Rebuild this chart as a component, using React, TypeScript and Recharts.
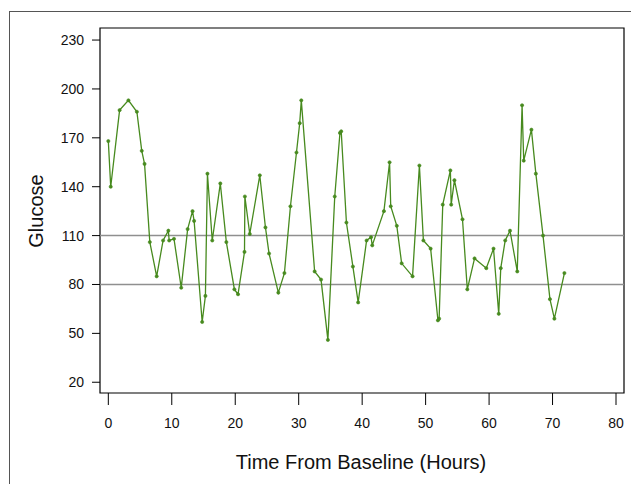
import React from "react";
import { LineChart, Line, XAxis, YAxis, ReferenceLine, ReferenceArea, Label } from "recharts";

const hours = [
  0, 0.38, 1.78, 3.17, 4.5, 5.27, 5.71, 6.54, 7.62, 8.63, 9.46, 9.59, 10.35, 11.49, 12.5, 13.27, 13.52, 14.79, 15.3,
  15.62, 16.38, 17.65, 18.6, 19.87, 20.44, 21.46, 21.52, 22.29, 23.87, 24.76, 25.33, 26.79, 27.75, 28.7, 29.65, 30.16,
  30.41, 32.51, 33.52, 34.6, 35.68, 36.5, 36.7, 37.52, 38.54, 39.37, 40.7, 41.4, 41.59, 43.43, 44.32, 44.5, 45.46,
  46.22, 47.94, 49.02, 49.65, 50.79, 51.94, 52.13, 52.7, 53.9, 54.03, 54.54, 55.81, 56.57, 57.71, 59.56, 60.7, 61.52,
  61.84, 62.54, 63.3, 64.44, 65.2, 65.46, 66.67, 67.37, 68.5, 69.59, 70.29, 71.87,
];

const glucose = [
  168, 140, 187, 193, 186, 162, 154, 106, 85, 107, 113, 107, 108, 78, 114, 125, 119, 57, 73,
  148, 107, 142, 106, 77, 74, 100, 134, 111, 147, 115, 99, 75, 87, 128, 161, 179,
  193, 88, 83, 46, 134, 173, 174, 118, 91, 69, 107, 109, 104, 125, 155, 128, 116,
  93, 85, 153, 107, 102, 58, 59, 129, 150, 129, 144, 120, 77, 96, 90, 102, 62,
  90, 107, 113, 88, 190, 156, 175, 148, 110, 71, 59, 87,
];

const xTicks = [0, 10, 20, 30, 40, 50, 60, 70, 80];
const yTicks = [20, 50, 80, 110, 140, 170, 200, 230];
const limits = [80, 110];

const X_DOMAIN: [number, number] = [-1.31, 81.26];
const Y_DOMAIN: [number, number] = [13.4, 237.4];

const data = hours.map((h, i) => ({ time: h, glucose: glucose[i] }));

const GREEN = "#478a1e";
const FONT = "'Liberation Sans', Arial, sans-serif";

const App: React.FC = () => {
  return (
    <div style={{ position: "absolute", left: 0, top: 0, width: 631, height: 484, overflow: "hidden", background: "#fff" }}>
      <div
        style={{
          position: "absolute",
          left: 9,
          top: 11,
          width: 660,
          height: 520,
          border: "1.5px solid #555",
        }}
      />
      <div style={{ position: "absolute", left: 0, top: 0 }}>
        <LineChart width={631} height={484} data={data} margin={{ top: 28, right: 7, left: 0, bottom: 0 }}>
          <XAxis
            dataKey="time"
            type="number"
            domain={X_DOMAIN}
            allowDataOverflow
            ticks={xTicks}
            height={91}
            axisLine={false}
            tickLine={{ stroke: "#000" }}
            tickSize={12}
            tickMargin={13}
            tick={{ fill: "#111", fontSize: 14, fontFamily: FONT }}
            interval={0}
          >
            <Label
              content={() => (
                <text x={361} y={469} textAnchor="middle" fill="#111" fontSize={20} fontFamily={FONT}>
                  Time From Baseline (Hours)
                </text>
              )}
            />
          </XAxis>
          <YAxis
            type="number"
            domain={Y_DOMAIN}
            allowDataOverflow
            ticks={yTicks}
            width={100}
            axisLine={false}
            tickLine={{ stroke: "#000" }}
            tickSize={8}
            tickMargin={8}
            tick={{ fill: "#111", fontSize: 14, fontFamily: FONT }}
            interval={0}
          >
            <Label
              content={() => (
                <text
                  x={43}
                  y={211}
                  textAnchor="middle"
                  fill="#111"
                  fontSize={20}
                  fontFamily={FONT}
                  transform="rotate(-90 43 211)"
                >
                  Glucose
                </text>
              )}
            />
          </YAxis>
          {limits.map((v) => (
            <ReferenceLine key={v} y={v} stroke="#8f8f8f" strokeWidth={1.5} />
          ))}
          <ReferenceArea
            x1={X_DOMAIN[0]}
            x2={X_DOMAIN[1]}
            y1={Y_DOMAIN[0]}
            y2={Y_DOMAIN[1]}
            fill="none"
            fillOpacity={0}
            stroke="#000"
            strokeWidth={1.2}
            ifOverflow="visible"
          />
          <Line
            type="linear"
            dataKey="glucose"
            stroke={GREEN}
            strokeWidth={1.3}
            dot={{ r: 1.6, fill: GREEN, stroke: GREEN, strokeWidth: 0.6 }}
            activeDot={false}
            isAnimationActive={false}
          />
        </LineChart>
      </div>
    </div>
  );
};

export default App;
